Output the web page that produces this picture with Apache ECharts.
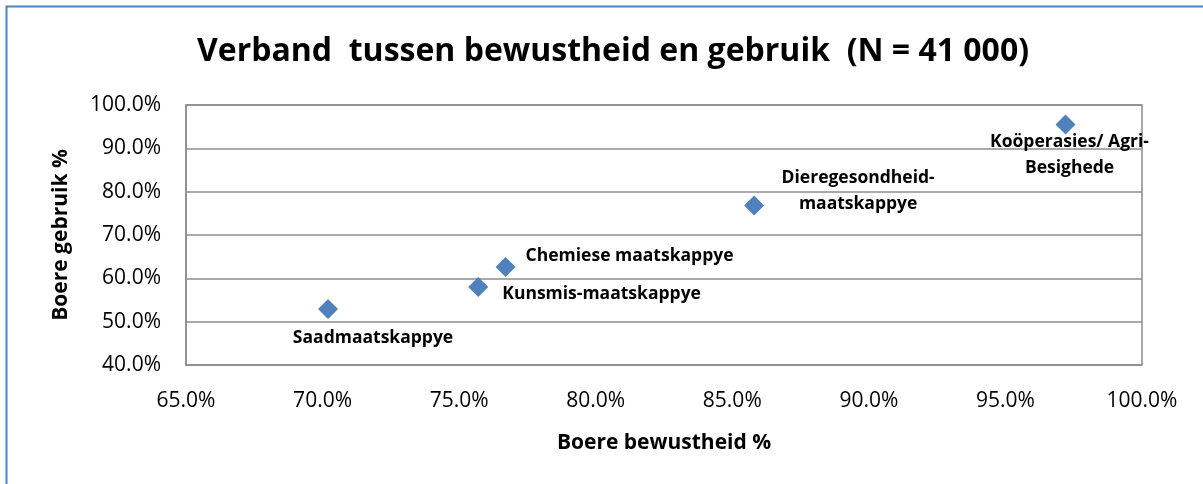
<!DOCTYPE html>
<html>
<head>
<meta charset="utf-8">
<script src="https://cdn.jsdelivr.net/npm/echarts@6/dist/echarts.min.js"></script>
<style>
  html, body { margin: 0; padding: 0; background: #fff; }
  #chart { width: 1203px; height: 484px; }
</style>
</head>
<body>
<div id="chart"></div>
<script>
// data (percent)
const names = ['Saadmaatskappye', 'Kunsmis-maatskappye', 'Chemiese maatskappye', 'Dieregesondheid-\nmaatskappye', 'Koöperasies/ Agri-\nBesighede']
const awareness = [70.2, 75.7, 76.7, 85.8, 97.2]
const usage = [52.9, 58.0, 62.6, 76.8, 95.5]

// label placement per point (position, offset)
const labelPos = ['inside', 'right', 'right', 'inside', 'inside']
const labelOffset = [[45, 29], [9, 7], [5, -11], [104, -15], [4, 31]]

const fontFam = '"Open Sans", sans-serif'

const chart = echarts.init(document.getElementById('chart'))

const points = names.map((n, i) => ({
  name: n,
  value: [awareness[i], usage[i]],
  label: {
    show: true,
    formatter: '{b}',
    position: labelPos[i],
    distance: 5,
    offset: labelOffset[i],
    align: labelPos[i] == 'right' ? 'left' : 'center',
    color: '#000',
    fontWeight: 'bold',
    fontSize: 17.5,
    lineHeight: 26,
    fontFamily: fontFam
  }
}))

chart.setOption({
  animation: false,
  title: {
    text: 'Verband  tussen bewustheid en gebruik  (N = 41 000)',
    left: 192,
    top: 31,
    textStyle: { fontSize: 32, fontWeight: 'bold', color: '#000', fontFamily: fontFam }
  },
  graphic: [{
    type: 'rect',
    shape: { x: 6.5, y: 6.5, width: 1300, height: 600 },
    style: { fill: 'none', stroke: '#4f81bd', lineWidth: 2 },
    silent: true
  }],
  grid: { left: 186, right: 61, top: 105, bottom: 119, show: true, borderColor: '#8c8c8c', borderWidth: 1.5 },
  xAxis: {
    type: 'value',
    min: 65, max: 100, interval: 5,
    name: 'Boere bewustheid %',
    nameLocation: 'middle',
    nameGap: 68,
    nameTextStyle: { fontSize: 21, fontWeight: 'bold', color: '#000', fontFamily: fontFam },
    axisLine: { show: false },
    axisTick: { show: false },
    splitLine: { show: false },
    axisLabel: {
      margin: 26,
      fontSize: 21,
      color: '#000',
      fontFamily: fontFam,
      formatter: v => v.toFixed(1) + '%'
    }
  },
  yAxis: {
    type: 'value',
    min: 40, max: 100, interval: 10,
    name: 'Boere gebruik %',
    nameLocation: 'middle',
    nameGap: 114,
    nameTextStyle: { fontSize: 21, fontWeight: 'bold', color: '#000', fontFamily: fontFam },
    axisLine: { show: true, lineStyle: { color: '#8c8c8c', width: 1.5 } },
    axisTick: { show: false },
    splitLine: { show: true, lineStyle: { color: '#8c8c8c', width: 1.5 } },
    axisLabel: {
      margin: 25,
      fontSize: 21,
      color: '#000',
      fontFamily: fontFam,
      formatter: v => v.toFixed(1) + '%'
    }
  },
  series: [{
    type: 'scatter',
    symbol: 'diamond',
    symbolSize: 20,
    itemStyle: { color: '#4f81bd', opacity: 1 },
    data: points
  }]
})
</script>
</body>
</html>
